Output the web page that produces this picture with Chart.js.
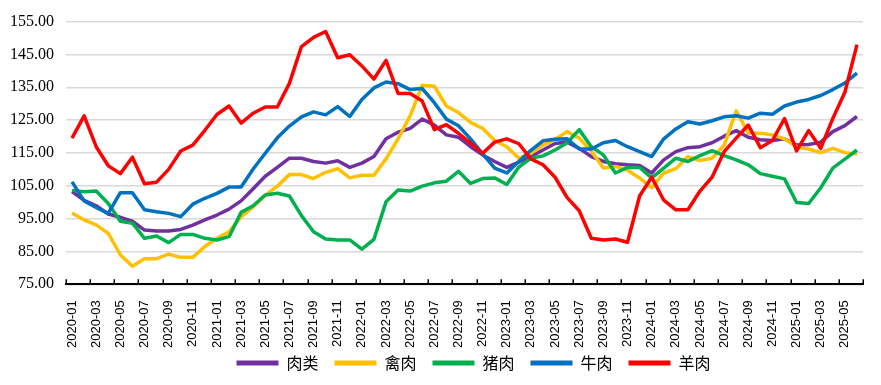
<!DOCTYPE html>
<html lang="zh">
<head>
    <meta charset="UTF-8">
    <title>肉类价格指数</title>
    <script src="https://cdn.jsdelivr.net/npm/chart.js"></script>
    <style>
        body { margin: 0; background: #fff; }
    </style>
</head>
<body>
    <canvas id="meatChart" width="881" height="385"></canvas>
    <script>
        // months 2020-01 .. 2025-06
        const months = [];
        for (let y = 2020; y <= 2025; y++) {
            for (let m = 1; m <= 12; m++) {
                if (y === 2025 && m > 6) break;
                months.push(y + '-' + String(m).padStart(2, '0'));
            }
        }

        const meatAll = [103.2, 100.6, 98.9, 96.4, 95.4, 94.2, 91.5, 91.2, 91.2, 91.7, 93.0, 94.6,
            96.1, 97.9, 100.4, 104.1, 107.9, 110.6, 113.4, 113.4, 112.4, 111.9, 112.6, 110.6,
            111.9, 113.9, 119.3, 121.3, 122.5, 125.3, 123.5, 120.5, 119.8, 116.9, 114.4, 112.4,
            110.6, 112.2, 113.9, 115.9, 117.9, 118.3, 116.4, 113.9, 112.4, 111.7, 111.4, 111.2,
            108.9, 112.9, 115.4, 116.6, 116.9, 118.1, 120.1, 121.8, 119.8, 119.0, 118.8, 119.3,
            117.4, 117.6, 118.3, 121.5, 123.3, 126.1];
        const poultry = [96.7, 94.6, 93.1, 90.5, 84.0, 80.5, 82.8, 82.8, 84.2, 83.2, 83.2, 86.5,
            89.0, 91.0, 95.5, 98.6, 102.1, 104.9, 108.4, 108.4, 107.2, 109.1, 110.2, 107.4,
            108.2, 108.2, 113.2, 119.3, 126.3, 135.6, 135.3, 129.3, 127.3, 124.3, 122.5, 118.8,
            116.9, 113.4, 114.9, 117.4, 119.1, 121.5, 119.5, 115.6, 110.4, 110.9, 109.7, 107.4,
            104.4, 108.9, 110.2, 113.9, 112.7, 113.4, 117.4, 127.8, 121.1, 121.0, 120.5, 119.3,
            116.9, 116.2, 115.1, 116.4, 115.1, 114.7];
        const pork = [103.6, 103.2, 103.4, 99.6, 94.2, 93.6, 89.0, 89.7, 87.7, 90.2, 90.2, 89.0,
            88.5, 89.5, 96.9, 98.9, 102.2, 102.7, 101.9, 95.9, 91.0, 88.8, 88.5, 88.5,
            85.7, 88.7, 100.1, 103.7, 103.4, 104.9, 105.9, 106.4, 109.4, 105.7, 107.2, 107.4,
            105.4, 110.7, 113.4, 114.1, 115.9, 118.1, 122.1, 116.9, 114.4, 108.9, 110.6, 110.6,
            107.4, 110.4, 113.4, 112.4, 114.2, 115.7, 114.2, 112.9, 111.4, 108.7, 107.9, 107.1,
            99.9, 99.6, 104.4, 110.4, 113.1, 115.9];
        const beef = [106.2, 100.4, 98.4, 96.6, 102.9, 102.9, 97.7, 97.1, 96.6, 95.6, 99.4, 101.2,
            102.7, 104.6, 104.6, 110.1, 114.9, 119.6, 123.2, 126.0, 127.5, 126.6, 129.1, 126.1,
            131.3, 134.8, 136.6, 136.1, 134.3, 134.6, 130.3, 125.3, 123.3, 119.3, 114.7, 110.4,
            108.9, 112.4, 115.8, 118.7, 119.2, 119.3, 116.2, 116.2, 118.1, 118.8, 116.9, 115.4,
            113.9, 119.3, 122.3, 124.5, 123.8, 124.8, 126.0, 126.3, 125.6, 127.1, 126.8, 129.3,
            130.5, 131.3, 132.5, 134.3, 136.3, 139.3];
        const mutton = [119.5, 126.3, 116.9, 111.1, 108.7, 113.7, 105.6, 106.1, 110.0, 115.6, 117.4, 121.9,
            126.7, 129.3, 124.1, 127.1, 129.0, 129.0, 136.2, 147.4, 150.2, 152.0, 144.0, 144.9,
            141.5, 137.5, 143.2, 133.1, 133.1, 130.8, 122.1, 123.6, 121.0, 118.0, 114.9, 118.3,
            119.3, 117.8, 113.2, 111.4, 107.6, 101.4, 97.4, 89.0, 88.5, 88.8, 87.8, 101.9,
            107.6, 100.6, 97.7, 97.7, 103.4, 107.6, 115.4, 119.5, 123.5, 116.6, 118.8, 125.5,
            115.6, 121.8, 116.4, 125.5, 133.5, 148.0];

        const seriesNames = ['肉类', '禽肉', '猪肉', '牛肉', '羊肉'];
        const seriesColors = ['#7030A0', '#FFC000', '#00B050', '#0070C0', '#FF0000'];
        const seriesData = [meatAll, poultry, pork, beef, mutton];

        const datasets = seriesData.map((d, i) => ({
            label: seriesNames[i],
            data: d,
            borderColor: seriesColors[i],
            backgroundColor: seriesColors[i],
            borderWidth: 3.5,
            pointRadius: 0,
            tension: 0,
            borderJoinStyle: 'round',
            order: seriesData.length - i   // later series on top, like the original
        }));

        // small tick marks pointing up into the plot, every 2 months
        const innerTicks = {
            id: 'innerTicks',
            afterDraw(chart) {
                const xs = chart.scales.x;
                const ctx = chart.ctx;
                const n = months.length / 2;
                const step = (xs.right - xs.left) / n;
                ctx.save();
                ctx.strokeStyle = '#000';
                ctx.lineWidth = 1.5;
                ctx.beginPath();
                for (let k = 0; k <= n; k++) {
                    const x = Math.round(xs.left + k * step) + 0.25;
                    ctx.moveTo(x, xs.top - 5);
                    ctx.lineTo(x, xs.top);
                }
                ctx.stroke();
                ctx.restore();
            }
        };

        // legend: keep wide item spacing but take less height, and nudge it right
        const LEGEND_TRIM = 17;
        const tweakLegend = {
            id: 'tweakLegend',
            afterInit(chart) {
                const lg = chart.legend;
                const fit = lg.fit;
                lg.fit = function () {
                    fit.call(this);
                    this.height -= LEGEND_TRIM;
                };
            },
            afterLayout(chart) {
                const lg = chart.legend;
                lg.left += 42;
                lg.right += 42;
                lg.top -= LEGEND_TRIM;
            }
        };

        const ctx = document.getElementById('meatChart').getContext('2d');
        new Chart(ctx, {
            type: 'line',
            data: { labels: months, datasets: datasets },
            plugins: [innerTicks, tweakLegend],
            options: {
                responsive: false,
                animation: false,
                layout: { padding: { top: 14, right: 18, left: 0, bottom: 4 } },
                plugins: {
                    tooltip: { enabled: false },
                    legend: {
                        position: 'bottom',
                        labels: {
                            boxWidth: 42,
                            boxHeight: 5,
                            padding: 16,
                            color: '#000',
                            font: { family: '"Noto Sans CJK SC"', size: 16 },
                            sort: (a, b) => a.datasetIndex - b.datasetIndex,
                            generateLabels(chart) {
                                const items = Chart.defaults.plugins.legend.labels.generateLabels(chart);
                                items.forEach(it => { it.lineWidth = 0; });
                                return items;
                            }
                        }
                    }
                },
                scales: {
                    x: {
                        offset: true,
                        grid: { display: false },
                        border: { display: true, color: '#000', width: 2 },
                        ticks: {
                            autoSkip: false,
                            maxRotation: 90,
                            minRotation: 90,
                            padding: 8,
                            color: '#000',
                            font: { family: '"Liberation Sans"', size: 13 },
                            callback: function (v, i) { return i % 2 === 0 ? months[i] : ''; }
                        }
                    },
                    y: {
                        min: 75,
                        max: 155,
                        afterFit(scale) { scale.width = 66; },
                        grid: { color: '#d9d9d9', lineWidth: 1.5, drawTicks: false },
                        border: { display: false },
                        ticks: {
                            stepSize: 10,
                            padding: 12,
                            color: '#000',
                            font: { family: '"Liberation Serif"', size: 16 },
                            callback: v => v.toFixed(2)
                        }
                    }
                }
            }
        });
    </script>
</body>
</html>
